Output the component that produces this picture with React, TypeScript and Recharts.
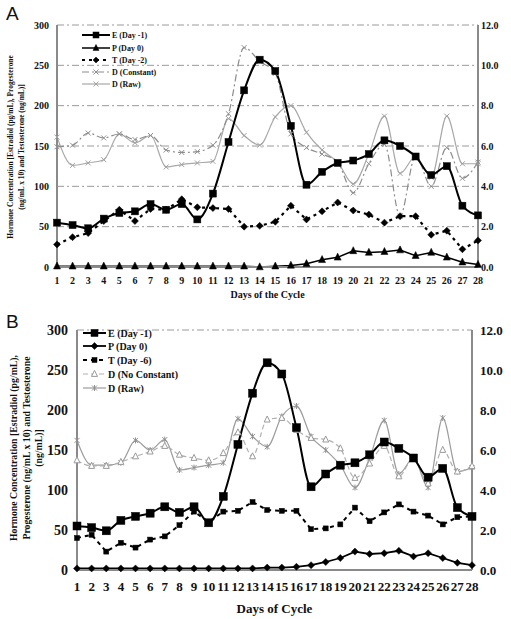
import React from 'react';
import { ComposedChart, Line, XAxis, YAxis, CartesianGrid, ReferenceLine } from 'recharts';

const FONT = "'Liberation Serif', 'Times New Roman', serif";

const days = [1, 2, 3, 4, 5, 6, 7, 8, 9, 10, 11, 12, 13, 14, 15, 16, 17, 18, 19, 20, 21, 22, 23, 24, 25, 26, 27, 28];
const leftTicks = [0, 50, 100, 150, 200, 250, 300];
const rightTicks = [0, 2, 4, 6, 8, 10, 12];

// Panel A
const aE = [55, 52, 48, 60, 67, 69, 78, 71, 78, 59, 91, 155, 219, 257, 243, 175, 102, 118, 129, 132, 140, 157, 150, 137, 114, 125, 76, 64];
const aP = [1, 1, 1, 1, 1, 1, 1, 1, 1, 1, 1, 1, 1, 0, 1, 2, 4, 9, 12, 20, 18, 19, 21, 14, 18, 12, 6, 3];
const aT = [28, 37, 42, 57, 71, 57, 72, 71, 84, 74, 73, 72, 50, 51, 56, 76, 59, 69, 80, 70, 65, 55, 63, 63, 40, 45, 22, 33];
const aDConst = [149, 151, 166, 160, 165, 158, 163, 145, 142, 143, 151, 190, 272, 255, 240, 165, 148, 140, 130, 92, 128, 152, 63, 138, 100, 148, 110, 130];
const aDRaw = [161, 126, 129, 133, 165, 154, 163, 124, 127, 129, 131, 184, 163, 151, 186, 200, 167, 145, 130, 103, 140, 187, 116, 137, 111, 187, 128, 128];

// Panel B
const bE = [55, 53, 49, 62, 67, 71, 79, 72, 79, 59, 92, 157, 221, 259, 245, 178, 104, 120, 131, 134, 144, 160, 152, 140, 116, 127, 78, 67];
const bP = [2, 2, 2, 2, 2, 2, 2, 2, 2, 2, 2, 2, 2, 3, 3, 4, 6, 10, 15, 23, 20, 21, 24, 17, 21, 15, 9, 6];
const bT = [40, 44, 23, 34, 28, 38, 42, 56, 73, 60, 73, 74, 85, 75, 74, 74, 51, 52, 57, 78, 61, 72, 82, 73, 68, 57, 66, 67];
const bDNoConst = [137, 130, 130, 135, 142, 148, 155, 144, 140, 137, 146, 172, 142, 188, 190, 175, 165, 163, 152, 115, 133, 155, 117, 140, 108, 150, 123, 130];
const bDRaw = [162, 131, 131, 134, 162, 150, 163, 125, 128, 131, 134, 189, 167, 154, 192, 205, 167, 150, 131, 103, 140, 187, 120, 140, 103, 190, 123, 128];

const dataA = days.map((d, i) => ({ day: d, E: aE[i], P: aP[i], T: aT[i], DC: aDConst[i], DR: aDRaw[i] }));
const dataB = days.map((d, i) => ({ day: d, E: bE[i], P: bP[i], T: bT[i], DN: bDNoConst[i], DR: bDRaw[i] }));

type M = { cx: number; cy: number; s: number; fill?: string; stroke?: string; sw?: number };
const Sq = ({ cx, cy, s, fill = '#000', stroke = '#000', sw = 0.5 }: M) => (
  <rect x={cx - s / 2} y={cy - s / 2} width={s} height={s} fill={fill} stroke={stroke} strokeWidth={sw} />
);
const Tri = ({ cx, cy, s, fill = '#000', stroke = '#000', sw = 0.5 }: M) => (
  <polygon points={`${cx},${cy - s * 0.6} ${cx + s / 2},${cy + s * 0.4} ${cx - s / 2},${cy + s * 0.4}`} fill={fill} stroke={stroke} strokeWidth={sw} />
);
const Dia = ({ cx, cy, s, fill = '#000', stroke = '#000', sw = 0.5 }: M) => (
  <polygon points={`${cx},${cy - s / 2} ${cx + s / 2},${cy} ${cx},${cy + s / 2} ${cx - s / 2},${cy}`} fill={fill} stroke={stroke} strokeWidth={sw} />
);
const Xm = ({ cx, cy, s, stroke = '#999', sw = 1 }: M) => (
  <g stroke={stroke} strokeWidth={sw}>
    <line x1={cx - s / 2} y1={cy - s / 2} x2={cx + s / 2} y2={cy + s / 2} />
    <line x1={cx - s / 2} y1={cy + s / 2} x2={cx + s / 2} y2={cy - s / 2} />
  </g>
);
const Star = ({ cx, cy, s, stroke = '#999', sw = 1 }: M) => (
  <g stroke={stroke} strokeWidth={sw}>
    <line x1={cx - s / 2} y1={cy - s / 2} x2={cx + s / 2} y2={cy + s / 2} />
    <line x1={cx - s / 2} y1={cy + s / 2} x2={cx + s / 2} y2={cy - s / 2} />
    <line x1={cx} y1={cy - s * 0.6} x2={cx} y2={cy + s * 0.6} />
  </g>
);

const mk = (name: string, C: any, extra: any) => (p: any) => (
  <g key={`${name}-${p.index}`}>{p.cx != null && p.cy != null ? <C cx={p.cx} cy={p.cy} {...extra} /> : null}</g>
);

const tickA = { fontSize: 10, fontWeight: 'bold', fill: '#111', fontFamily: FONT };
const tickB = { fontSize: 13, fontWeight: 'bold', fill: '#111', fontFamily: FONT };
const axisStroke = { stroke: '#8a8a8a', strokeWidth: 2 };

function LegendRow({ y, x1, x2, tx, fs, label, dash, stroke, sw, marker }: any) {
  return (
    <g>
      <line x1={x1} y1={y} x2={x2} y2={y} stroke={stroke} strokeWidth={sw} strokeDasharray={dash} />
      {marker((x1 + x2) / 2, y)}
      <text x={tx} y={y} dominantBaseline="central" fontSize={fs} fontWeight="bold" fontFamily={FONT} fill="#111">
        {label}
      </text>
    </g>
  );
}

export default function App() {
  return (
    <div style={{ position: 'absolute', left: 0, top: 0, width: 511, height: 619, background: '#fff', fontFamily: FONT }}>
      <div style={{ position: 'absolute', left: 0, top: 0 }}>
        <ComposedChart width={511} height={300} data={dataA} margin={{ top: 25, right: 0, bottom: 0, left: 0 }}>
          <CartesianGrid yAxisId="L" vertical={false} stroke="#9a9a9a" strokeDasharray="7 3 2 3" />
          <XAxis
            dataKey="day"
            height={33}
            interval={0}
            tickLine={false}
            tickSize={0}
            tickMargin={10}
            axisLine={axisStroke}
            tick={tickA}
            label={{ value: 'Days of the Cycle', position: 'insideBottom', offset: 2, style: { ...tickA, fill: '#111' } }}
          />
          <YAxis yAxisId="L" domain={[0, 300]} ticks={leftTicks} width={57} tickLine={false} tickSize={0} tickMargin={8} axisLine={axisStroke} tick={tickA} />
          <YAxis
            yAxisId="R"
            orientation="right"
            domain={[0, 12]}
            allowDataOverflow={true}
            ticks={rightTicks}
            width={33}
            tickLine={false}
            tickSize={0}
            tickMargin={3}
            axisLine={axisStroke}
            tick={tickA}
            tickFormatter={(v: number) => v.toFixed(1)}
          />
          <Line yAxisId="L" dataKey="DR" type="monotone" stroke="#a8a8a8" strokeWidth={1.2} isAnimationActive={false} dot={mk('adr', Xm, { s: 5, stroke: '#a0a0a0' })} />
          <Line yAxisId="L" dataKey="DC" type="monotone" stroke="#8c8c8c" strokeWidth={1.2} strokeDasharray="7 3 2 3" isAnimationActive={false} dot={mk('adc', Xm, { s: 5, stroke: '#909090' })} />
          <Line yAxisId="L" dataKey="T" type="linear" stroke="#000" strokeWidth={2.2} strokeDasharray="3 4" isAnimationActive={false} dot={mk('at', Dia, { s: 7 })} />
          <Line yAxisId="L" dataKey="P" type="linear" stroke="#000" strokeWidth={1.5} isAnimationActive={false} dot={mk('ap', Tri, { s: 7 })} />
          <Line yAxisId="L" dataKey="E" type="monotone" stroke="#000" strokeWidth={2} isAnimationActive={false} dot={mk('ae', Sq, { s: 7 })} />
        </ComposedChart>
      </div>
      <div style={{ position: 'absolute', left: 0, top: 300 }}>
        <ComposedChart width={511} height={319} data={dataB} margin={{ top: 30, right: 0, bottom: 0, left: 0 }}>
          <ReferenceLine yAxisId="L" y={300} stroke="#9a9a9a" strokeDasharray="7 3 2 3" />
          <XAxis
            dataKey="day"
            height={49}
            interval={0}
            tickLine={false}
            tickSize={0}
            tickMargin={12}
            axisLine={axisStroke}
            tick={tickB}
            label={{ value: 'Days of Cycle', position: 'insideBottom', offset: 6, style: { ...tickB, fill: '#111' } }}
          />
          <YAxis yAxisId="L" domain={[0, 300]} ticks={leftTicks} width={77} tickLine={false} tickSize={0} tickMargin={9} axisLine={axisStroke} tick={{ ...tickB, fontSize: 14 }} />
          <YAxis
            yAxisId="R"
            orientation="right"
            domain={[0, 12]}
            allowDataOverflow={true}
            ticks={rightTicks}
            width={39}
            tickLine={false}
            tickSize={0}
            tickMargin={8}
            axisLine={axisStroke}
            tick={tickB}
            tickFormatter={(v: number) => v.toFixed(1)}
          />
          <Line yAxisId="L" dataKey="DR" type="monotone" stroke="#9c9c9c" strokeWidth={1.2} isAnimationActive={false} dot={mk('bdr', Star, { s: 5, stroke: '#909090' })} />
          <Line yAxisId="L" dataKey="DN" type="monotone" stroke="#b0b0b0" strokeWidth={1.2} strokeDasharray="5 3" isAnimationActive={false} dot={mk('bdn', Tri, { s: 6, fill: '#fff', stroke: '#9a9a9a', sw: 1 })} />
          <Line yAxisId="L" dataKey="T" type="linear" stroke="#000" strokeWidth={2} strokeDasharray="4 4" isAnimationActive={false} dot={mk('bt', Sq, { s: 5 })} />
          <Line yAxisId="L" dataKey="P" type="linear" stroke="#000" strokeWidth={1.8} isAnimationActive={false} dot={mk('bp', Dia, { s: 7 })} />
          <Line yAxisId="L" dataKey="E" type="monotone" stroke="#000" strokeWidth={2} isAnimationActive={false} dot={mk('be', Sq, { s: 8 })} />
        </ComposedChart>
      </div>
      <svg width={511} height={619} style={{ position: 'absolute', left: 0, top: 0, pointerEvents: 'none' }}>
        <text x={6} y={20} fontSize={19} fontFamily="'Liberation Sans', Arial, sans-serif" fill="#111">A</text>
        <text x={6} y={328} fontSize={19} fontFamily="'Liberation Sans', Arial, sans-serif" fill="#111">B</text>

        <g fontFamily={FONT} fontWeight="bold" fill="#111" textAnchor="middle" dominantBaseline="central">
          <text transform="translate(10,147) rotate(-90)" fontSize={7.4}>Hormone Concentration [Estradiol (pg/mL), Progesterone</text>
          <text transform="translate(21,147) rotate(-90)" fontSize={7.4}>(ng/mL x 10) and Testosterone (ng/mL)]</text>
          <text transform="translate(13,448) rotate(-90)" fontSize={9.8}>Hormone Concentration [Estradiol (pg/mL),</text>
          <text transform="translate(26,448) rotate(-90)" fontSize={9.8}>Progesterone (ng/mL x 10) and Testosterone</text>
          <text transform="translate(38,448) rotate(-90)" fontSize={9.8}>(ng/mL)]</text>
        </g>

        {/* Legend A */}
        <LegendRow y={35} x1={82} x2={110} tx={112} fs={8} label="E (Day -1)" stroke="#000" sw={2} marker={(x: number, y: number) => <Sq cx={x} cy={y} s={6} />} />
        <LegendRow y={48} x1={82} x2={110} tx={112} fs={8} label="P (Day 0)" stroke="#000" sw={1.5} marker={(x: number, y: number) => <Tri cx={x} cy={y} s={6} />} />
        <LegendRow y={60} x1={82} x2={110} tx={112} fs={8} label="T (Day -2)" stroke="#000" sw={2} dash="3 4" marker={(x: number, y: number) => <Dia cx={x} cy={y} s={6} />} />
        <LegendRow y={72} x1={82} x2={110} tx={112} fs={8} label="D (Constant)" stroke="#8c8c8c" sw={1.2} dash="7 3 2 3" marker={(x: number, y: number) => <Xm cx={x} cy={y} s={5} stroke="#909090" />} />
        <LegendRow y={84} x1={82} x2={110} tx={112} fs={8} label="D (Raw)" stroke="#a8a8a8" sw={1.2} marker={(x: number, y: number) => <Xm cx={x} cy={y} s={5} stroke="#a0a0a0" />} />

        {/* Legend B */}
        <LegendRow y={333} x1={83} x2={106} tx={108} fs={10} label="E (Day -1)" stroke="#000" sw={2} marker={(x: number, y: number) => <Sq cx={x} cy={y} s={7} />} />
        <LegendRow y={346} x1={83} x2={106} tx={108} fs={10} label="P (Day 0)" stroke="#000" sw={1.8} marker={(x: number, y: number) => <Dia cx={x} cy={y} s={7} />} />
        <LegendRow y={360} x1={83} x2={106} tx={108} fs={10} label="T (Day -6)" stroke="#000" sw={2} dash="4 4" marker={(x: number, y: number) => <Sq cx={x} cy={y} s={5} />} />
        <LegendRow y={374} x1={83} x2={106} tx={108} fs={10} label="D (No Constant)" stroke="#b0b0b0" sw={1.2} dash="5 3" marker={(x: number, y: number) => <Tri cx={x} cy={y} s={6} fill="#fff" stroke="#9a9a9a" sw={1} />} />
        <LegendRow y={388} x1={83} x2={106} tx={108} fs={10} label="D (Raw)" stroke="#9c9c9c" sw={1.2} marker={(x: number, y: number) => <Star cx={x} cy={y} s={5} stroke="#909090" />} />
      </svg>
    </div>
  );
}
